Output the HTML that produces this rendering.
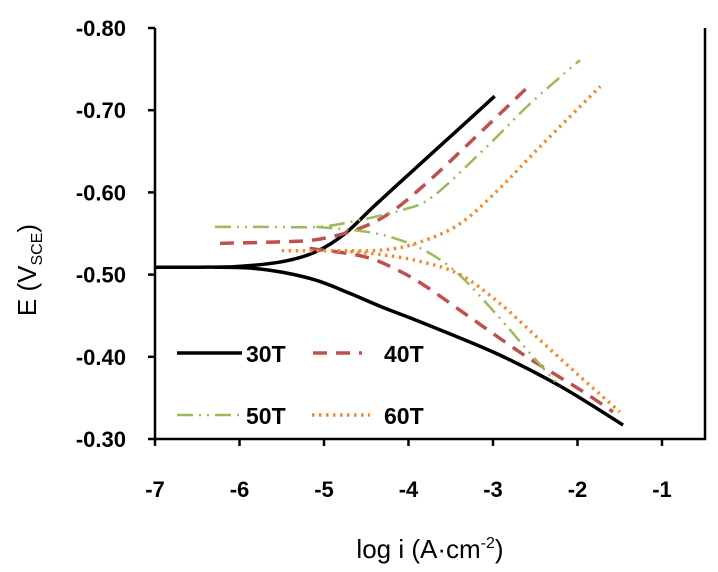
<!DOCTYPE html>
<html><head><meta charset="utf-8"><style>
body{margin:0;background:#fff}
svg{display:block;font-family:"Liberation Sans",sans-serif}
</style></head><body>
<svg id="chart" width="718" height="572" viewBox="0 0 718 572">
<g id="axes"></g>
<g id="series"></g>
<g id="legend"></g>
<text x="430" y="558" text-anchor="middle" font-size="26">log i (A·cm<tspan dy="-10" font-size="16">-2</tspan><tspan dy="10">)</tspan></text>
<text transform="translate(36,270) rotate(-90)" text-anchor="middle" font-size="26">E (V<tspan dy="6" font-size="16">SCE</tspan><tspan dy="-6">)</tspan></text>
</svg>
<script>
const xTicks=[-7,-6,-5,-4,-3,-2,-1];
const xTickLabels=["-7","-6","-5","-4","-3","-2","-1"];
const yTicks=[-0.8,-0.7,-0.6,-0.5,-0.4,-0.3];
const yTickLabels=["-0.80","-0.70","-0.60","-0.50","-0.40","-0.30"];
const seriesNames=["30T","40T","50T","60T"];
const a30x=[-7,-6.5,-6,-5.48,-5.09,-4.75,-4.4,-3.9,-3.45,-2.98];
const a30y=[-0.509,-0.509,-0.510,-0.516,-0.528,-0.550,-0.584,-0.631,-0.673,-0.717];
const c30x=[-6.3,-5.88,-5.5,-5.09,-4.69,-4.3,-3.85,-2.96,-2.2,-1.46];
const c30y=[-0.509,-0.508,-0.503,-0.493,-0.477,-0.460,-0.442,-0.404,-0.364,-0.317];
const a40x=[-6.23,-5.48,-5.06,-4.61,-4.22,-3.78,-3.23,-2.6];
const a40y=[-0.538,-0.540,-0.543,-0.555,-0.575,-0.612,-0.665,-0.727];
const c40x=[-5.17,-4.53,-4.14,-3.8,-3.23,-2.6,-1.97,-1.58];
const c40y=[-0.532,-0.522,-0.506,-0.486,-0.445,-0.400,-0.360,-0.333];
const a50x=[-6.29,-5.7,-5.09,-4.69,-4.06,-3.7,-3.07,-2.56,-1.97];
const a50y=[-0.558,-0.558,-0.558,-0.564,-0.579,-0.596,-0.656,-0.708,-0.761];
const c50x=[-5.09,-4.49,-4.1,-3.75,-3.39,-2.92,-2.56,-2.21];
const c50y=[-0.558,-0.552,-0.542,-0.526,-0.499,-0.447,-0.404,-0.364];
const a60x=[-5.5,-4.9,-4.3,-3.88,-3.39,-2.92,-2.44,-1.73];
const a60y=[-0.529,-0.529,-0.530,-0.539,-0.562,-0.605,-0.656,-0.729];
const c60x=[-4.69,-4.3,-3.86,-3.39,-2.92,-2.44,-1.97,-1.5];
const c60y=[-0.528,-0.524,-0.516,-0.500,-0.465,-0.420,-0.376,-0.333];

const X0=155,XPD=84.5,Y0=439,YPU=822,RIGHT=705,TOP=28;
function xs(v){return X0+(v+7)*XPD;}
function ys(e){return Y0-(-0.3-e)*YPU;}
const NS="http://www.w3.org/2000/svg";
function mk(t,attrs,parent){const e=document.createElementNS(NS,t);for(const k in attrs)e.setAttribute(k,attrs[k]);parent.appendChild(e);return e;}
const axes=document.getElementById('axes');
let ax=mk('path',{d:'M'+X0+','+TOP+' V'+Y0+' H'+RIGHT+' V'+TOP,fill:'none',stroke:'#000','stroke-width':2.5},axes);


xTicks.forEach((v,i)=>{
  const l=mk('line',{x1:xs(v),x2:xs(v),y1:Y0,y2:Y0+7,stroke:'#000','stroke-width':2.5},axes);
  
  
  const t=mk('text',{x:xs(v),y:Y0+58,'text-anchor':'middle','font-size':22,'font-weight':'bold'},axes);
  t.textContent=xTickLabels[i];
  
  
});
yTicks.forEach((v,i)=>{
  const l=mk('line',{x1:X0-7,x2:X0,y1:ys(v),y2:ys(v),stroke:'#000','stroke-width':2.5},axes);
  
  
  const t=mk('text',{x:X0-29,y:ys(v)+8,'text-anchor':'end','font-size':22,'font-weight':'bold'},axes);
  t.textContent=yTickLabels[i];
  
  
});
function pathFrom(xa,ya){
  const p=xa.map((v,i)=>[xs(v),ys(ya[i])]);
  let d='M'+p[0][0]+','+p[0][1];
  for(let i=0;i<p.length-1;i++){
    const p0=p[i-1]||p[i],p1=p[i],p2=p[i+1],p3=p[i+2]||p2;
    const c1=[p1[0]+(p2[0]-p0[0])/6,p1[1]+(p2[1]-p0[1])/6];
    const c2=[p2[0]-(p3[0]-p1[0])/6,p2[1]-(p3[1]-p1[1])/6];
    d+=' C'+c1+' '+c2+' '+p2;
  }
  return d;
}
const styles=[
  {stroke:'#000','stroke-width':3.5},
  {stroke:'#C0504D','stroke-width':3.5,'stroke-dasharray':'14,9'},
  {stroke:'#9BBB59','stroke-width':2.5,'stroke-dasharray':'16,6,2,6,2,6'},
  {stroke:'#F08a30','stroke-width':3.5,'stroke-dasharray':'2.5,4.5'}
];
const data=[[a30x,a30y,c30x,c30y],[a40x,a40y,c40x,c40y],[a50x,a50y,c50x,c50y],[a60x,a60y,c60x,c60y]];
const sg=document.getElementById('series');
data.forEach((s,i)=>{
  const st=Object.assign({fill:'none'},styles[i]);
  st.d=pathFrom(s[0],s[1]);
  const a=mk('path',st,sg);
  
  
  const st2=Object.assign({fill:'none'},styles[i]);
  st2.d=pathFrom(s[2],s[3]);
  const c=mk('path',st2,sg);
  
  
});
const lg=document.getElementById('legend');
const lpos=[[177,242,353,246],[313,362,353,384],[177,242,415,246],[312,370,415,384]];
lpos.forEach((p,i)=>{
  const l=mk('line',Object.assign({x1:p[0],x2:p[1],y1:p[2],y2:p[2]},styles[i]),lg);
  
  
  const t=mk('text',{x:p[3],y:p[2]+9,'font-size':23,'font-weight':'bold'},lg);
  t.textContent=seriesNames[i];
  
  
});
</script>
</body></html>
